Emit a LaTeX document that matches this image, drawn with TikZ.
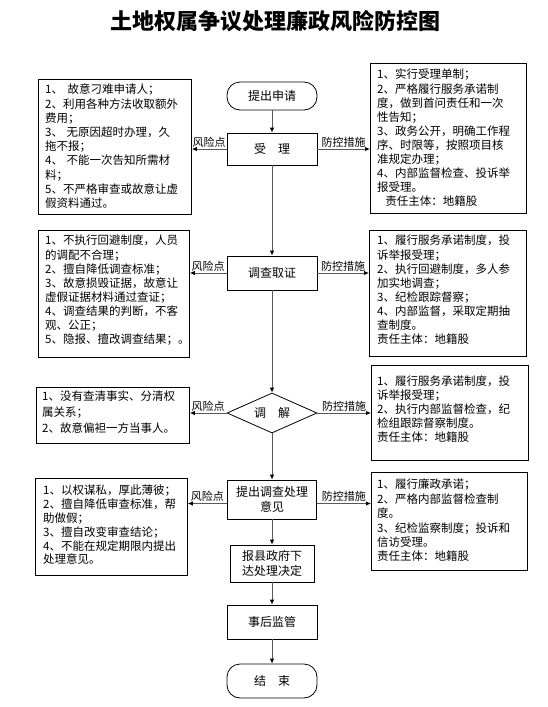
\documentclass[tikz,border=0pt]{standalone}
\usepackage{fontspec}
\setmainfont{Noto Sans CJK SC}
\usetikzlibrary{arrows.meta,shapes.geometric}
\tikzset{
  flowbox/.style={draw, line width=0.8pt, minimum width=90pt, inner sep=1pt, align=center, font=\fontsize{12pt}{15pt}\selectfont},
  stadium/.style={flowbox, rounded corners=13pt},
  decision/.style={draw, line width=0.8pt, diamond, aspect=2.25, minimum width=90pt, minimum height=40pt, inner sep=0pt, font=\fontsize{12pt}{15pt}\selectfont},
  sidebox/.style={draw, line width=0.8pt, anchor=north west, inner sep=0pt},
  sidetext/.style={anchor=north west, align=left, inner sep=0pt, font=\fontsize{11.5pt}{#1}\selectfont},
  flowarrow/.style={draw=black!65, line width=0.9pt, -{Latex[length=5pt,width=4.5pt,color=black]}},
  risklabel/.style={anchor=south, inner sep=1.5pt, font=\fontsize{11pt}{13pt}\selectfont},
}
\begin{document}
\begin{tikzpicture}[x=1pt,y=-1pt]
\useasboundingbox[fill=white] (0,0) rectangle (548,707);
% title
\node[font=\fontsize{22pt}{26pt}\selectfont\bfseries] (title) at (275,21) {土地权属争议处理廉政风险防控图};
% main flow
\node[stadium, minimum height=28pt] (n1) at (272,96) {提出申请};
\node[flowbox, minimum height=32pt] (n2) at (272,149) {受\hspace{1em}理};
\node[flowbox, minimum height=34pt] (n3) at (272,273) {调查取证};
\node[decision] (n4) at (272,413) {调\hspace{1em}解};
\node[flowbox, minimum height=39pt, minimum width=89pt] (n5) at (272,499.5) {提出调查处理\\意见};
\node[flowbox, minimum height=37pt, minimum width=84pt] (n6) at (272,563.5) {报县政府下\\达处理决定};
\node[flowbox, minimum height=34pt] (n7) at (272,622) {事后监管};
\node[stadium, minimum height=34pt] (n8) at (272,681) {结\hspace{1em}束};
\draw[flowarrow] (n1) -- (n2);
\draw[flowarrow] (n2) -- (n3);
\draw[flowarrow] (n3) -- (n4);
\draw[flowarrow] (n4) -- (n5);
\draw[flowarrow] (n5) -- (n6);
\draw[flowarrow] (n6) -- (n7);
\draw[flowarrow] (n7) -- (n8);
% side boxes
\node[sidebox, minimum width=153pt, minimum height=135pt] (l1) at (38,79) {};
\node[sidetext=14.2pt] (l1t) at ([shift={(7,5)}]l1.north west) {1、\hspace{0.4em}故意刁难申请人；\\2、利用各种方法收取额外\\费用；\\3、\hspace{0.3em}无原因超时办理，久\\拖不报；\\4、\hspace{0.3em}不能一次告知所需材\\料；\\5、不严格审查或故意让虚\\假资料通过。};
\node[sidebox, minimum width=156pt, minimum height=150pt] (r1) at (370,63) {};
\node[sidetext=14.1pt] (r1t) at ([shift={(7,6)}]r1.north west) {1、实行受理单制；\\2、严格履行服务承诺制\\度，做到首问责任和一次\\性告知；\\3、政务公开，明确工作程\\序、时限等，按照项目核\\准规定办理；\\4、内部监督检查、投诉举\\报受理。\\\hspace{0.7em}责任主体：地籍股};
\node[sidebox, minimum width=151pt, minimum height=127pt] (l2) at (38,230) {};
\node[sidetext=14.1pt] (l2t) at ([shift={(7,5)}]l2.north west) {1、不执行回避制度，人员\\的调配不合理；\\2、擅自降低调查标准；\\3、故意损毁证据，故意让\\虚假证据材料通过查证；\\4、调查结果的判断，不客\\观、公正；\\5、隐报、擅改调查结果；。};
\node[sidebox, minimum width=157pt, minimum height=126pt] (r2) at (369,230) {};
\node[sidetext=14.1pt] (r2t) at ([shift={(8,5)}]r2.north west) {1、履行服务承诺制度，投\\诉举报受理；\\2、执行回避制度，多人参\\加实地调查；\\3、纪检跟踪督察；\\4、内部监督，采取定期抽\\查制度。\\责任主体：地籍股};
\node[sidebox, minimum width=153pt, minimum height=56pt] (l3) at (36,387) {};
\node[sidetext=16pt] (l3t) at ([shift={(6,4)}]l3.north west) {1、没有查清事实、分清权\\属关系；\\2、故意偏袒一方当事人。};
\node[sidebox, minimum width=157pt, minimum height=95pt] (r3) at (371,365) {};
\node[sidetext=13.8pt] (r3t) at ([shift={(6,11)}]r3.north west) {1、履行服务承诺制度，投\\诉举报受理；\\2、执行内部监督检查，纪\\检组跟踪督察制度。\\责任主体：地籍股};
\node[sidebox, minimum width=152pt, minimum height=97pt] (l4) at (35,478) {};
\node[sidetext=13.8pt] (l4t) at ([shift={(8,7)}]l4.north west) {1、以权谋私，厚此薄彼；\\2、擅自降低审查标准，帮\\助做假；\\3、擅自改变审查结论；\\4、不能在规定期限内提出\\处理意见。};
\node[sidebox, minimum width=156pt, minimum height=98pt] (r4) at (371,472) {};
\node[sidetext=14.4pt] (r4t) at ([shift={(6,7)}]r4.north west) {1、履行廉政承诺；\\2、严格内部监督检查制\\度。\\3、纪检监察制度；投诉和\\信访受理。\\责任主体：地籍股};
% risk and control arrows
\draw[flowarrow] (n2.west) -- node[risklabel]{风险点} (n2.west -| l1.east);
\draw[flowarrow] (n2.east) -- node[risklabel]{防控措施} (n2.east -| r1.west);
\draw[flowarrow] (n3.west) -- node[risklabel]{风险点} (n3.west -| l2.east);
\draw[flowarrow] (n3.east) -- node[risklabel]{防控措施} (n3.east -| r2.west);
\draw[flowarrow] (n4.west) -- node[risklabel]{风险点} (n4.west -| l3.east);
\draw[flowarrow] (n4.east) -- node[risklabel]{防控措施} (n4.east -| r3.west);
\draw[flowarrow] ([yshift=-4pt]n5.west) -- node[risklabel]{风险点} ([yshift=-4pt]n5.west -| l4.east);
\draw[flowarrow] ([yshift=-4pt]n5.east) -- node[risklabel]{防控措施} ([yshift=-4pt]n5.east -| r4.west);
\end{tikzpicture}
\end{document}
